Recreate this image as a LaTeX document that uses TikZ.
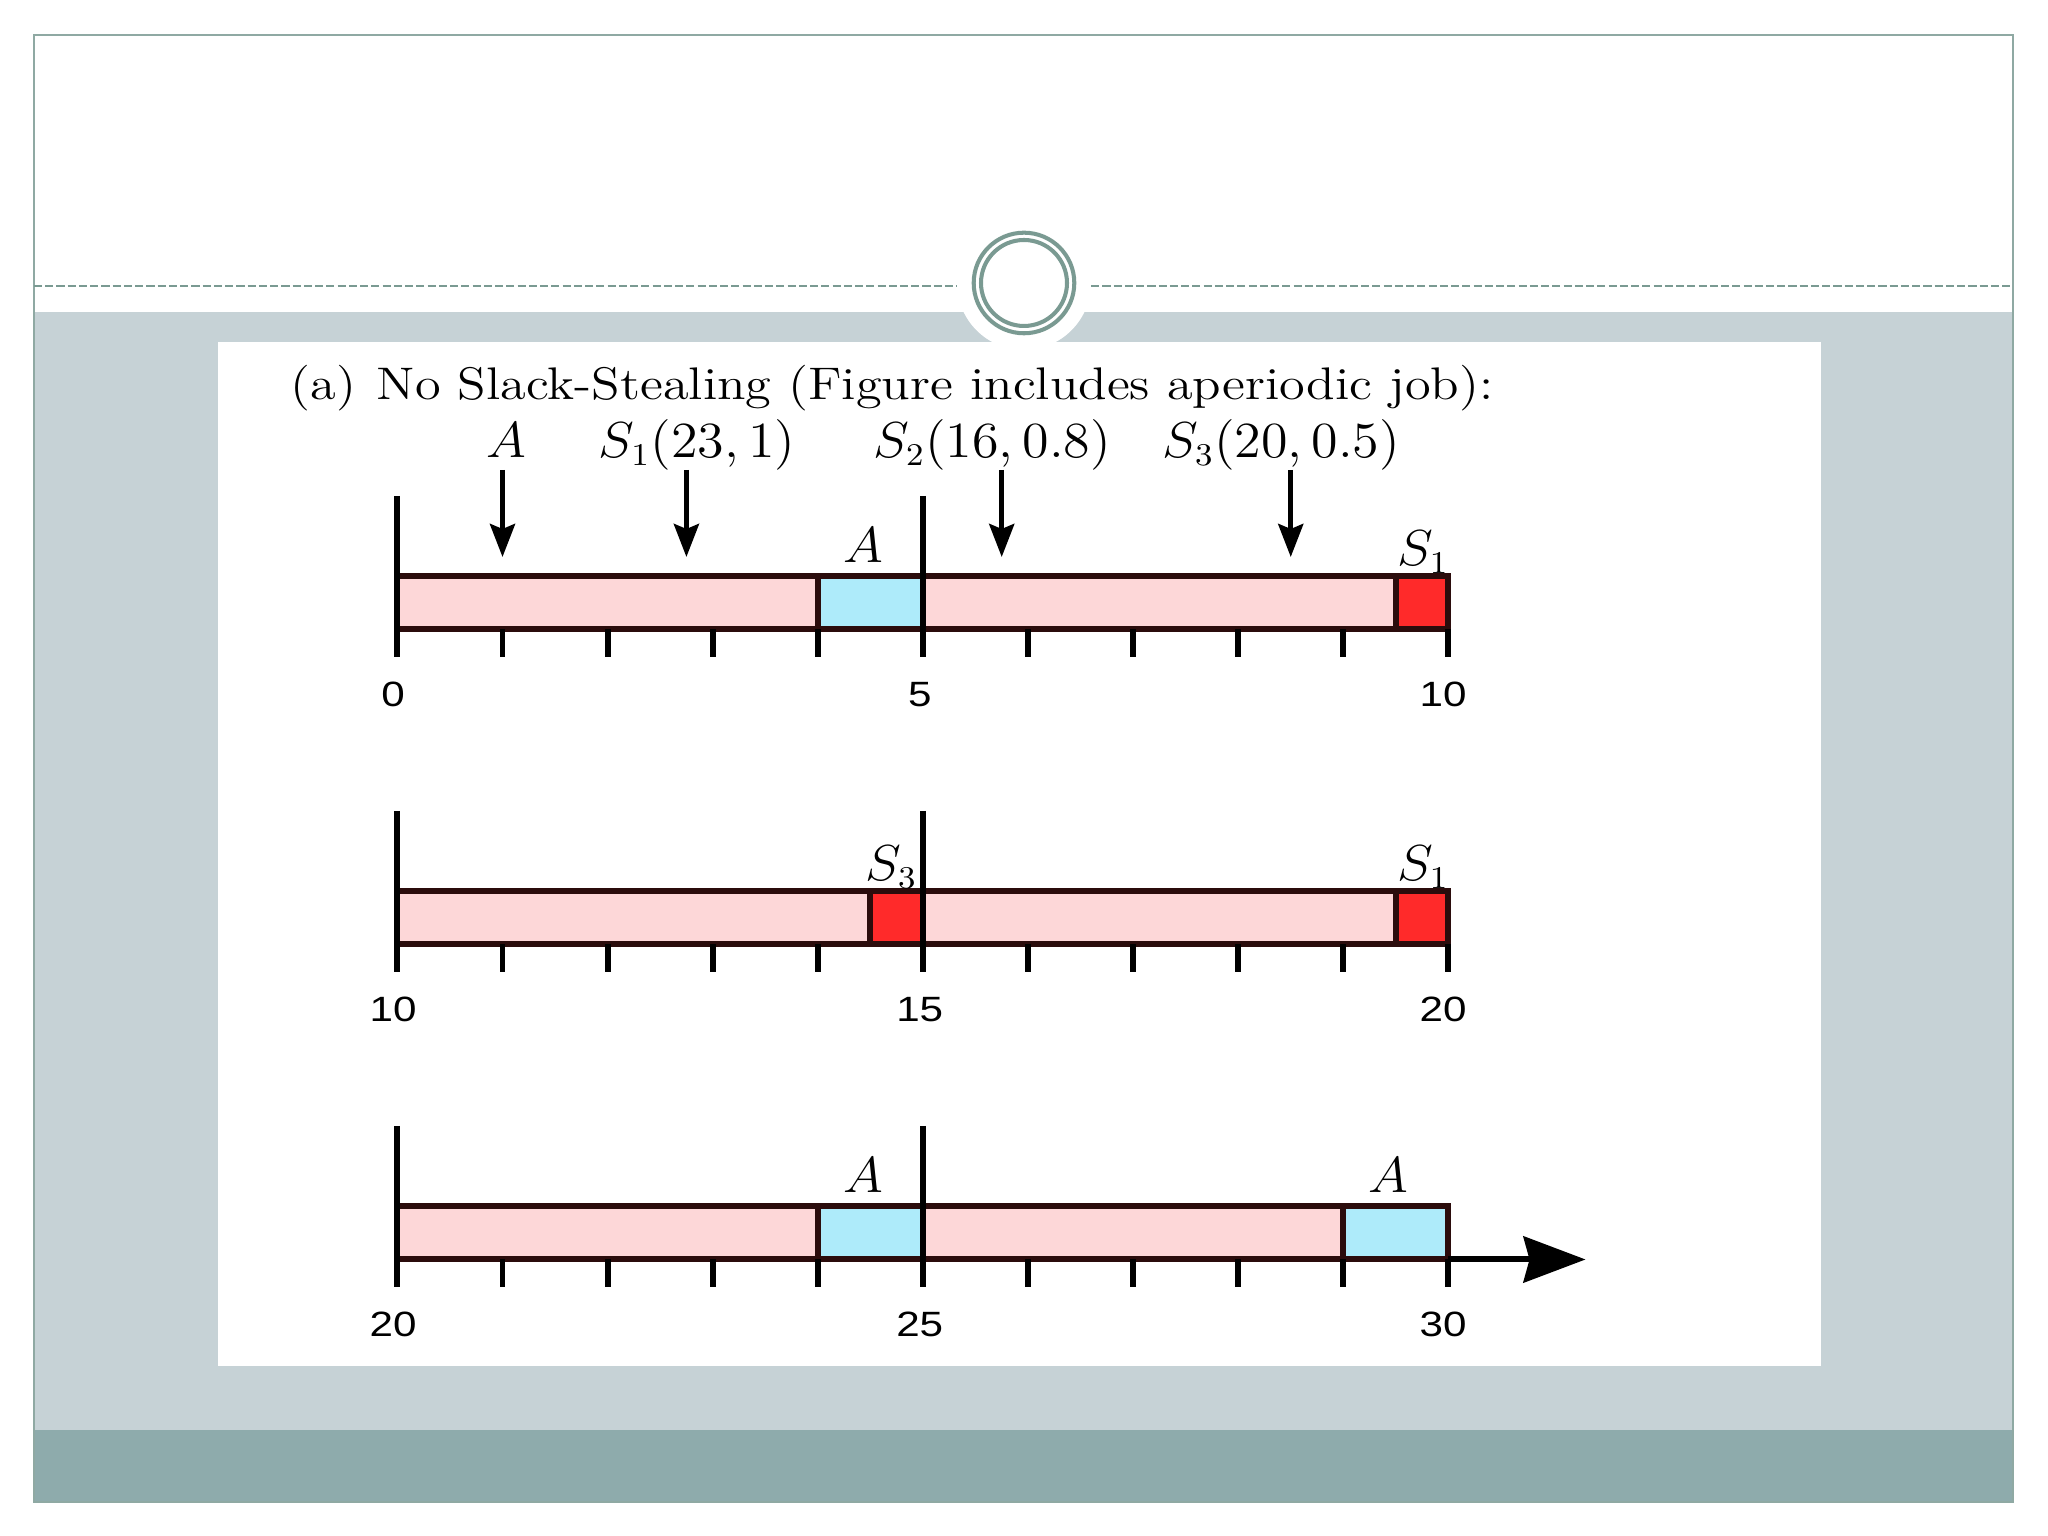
\documentclass[tikz,border=0pt]{standalone}
\usepackage{fontspec}
\newfontfamily\axisfont{Liberation Sans}
\usetikzlibrary{arrows.meta,positioning,calc}

\begin{document}
\begin{tikzpicture}[
        seg/.style={draw=barline, line width=1.7pt},
        tickline/.style={black, line width=1.7pt},
        joblabel/.style={font=\fontsize{13.5}{15}\selectfont, anchor=base, inner sep=0pt, xscale=1.07},
        ticklabel/.style={font=\axisfont\fontsize{10}{12}\selectfont, inner sep=0pt, xscale=1.2},
        release/.style={line width=1.4pt, -{Stealth[length=3.3mm,width=2.5mm,inset=0.5mm]}}
    ]
        \definecolor{slideline}{RGB}{143,169,163}
        \definecolor{bandgray}{RGB}{198,210,214}
        \definecolor{banddark}{RGB}{142,171,172}
        \definecolor{ringgreen}{RGB}{122,154,146}
        \definecolor{idlepink}{RGB}{253,215,216}
        \definecolor{aperblue}{RGB}{174,235,250}
        \definecolor{sporred}{RGB}{255,42,42}
        \definecolor{barline}{RGB}{43,12,12}

        \useasboundingbox (0,0) rectangle (20.48,15.36);

        % Slide background first
        \fill[white] (0,0) rectangle (20.48,15.36);
        \fill[bandgray] (0.34,1.06) rectangle (20.13,12.24);
        \fill[banddark] (0.34,0.34) rectangle (20.13,1.06);
        \draw[slideline, line width=0.6pt] (0.34,0.34) rectangle (20.13,15.01);
        \draw[ringgreen, line width=0.6pt, dash pattern=on 2.3pt off 0.9pt] (0.34,12.50) -- (20.13,12.50);

        % Ring on the separator line
        \fill[white] (10.24,12.53) circle (0.67);
        \draw[ringgreen, line width=1.15pt] (10.24,12.53) circle (0.503);
        \draw[ringgreen, line width=1.15pt] (10.24,12.53) circle (0.43);

        % White card for the figure
        \fill[white] (2.18,1.70) rectangle (18.21,11.94);

        \node[joblabel, anchor=base west, font=\fontsize{13}{15}\selectfont, xscale=1.072] (title) at (2.90,11.36) {(a)\hskip 5pt No Slack-Stealing (Figure includes aperiodic job):};

        % Time axis: 1 unit = one time step
        \begin{scope}[shift={(3.974,0)}, x=1.051cm]

            % Row 1: 0..10
            \fill[idlepink] (0,9.065) rectangle (10,9.60);
            \fill[aperblue] (4,9.065) rectangle (5,9.60);
            \fill[sporred] (9.5,9.065) rectangle (10,9.60);
            \draw[seg] (0,9.065) rectangle (10,9.60);
            \draw[seg] (4,9.065) -- (4,9.60);
            \draw[seg] (9.5,9.065) -- (9.5,9.60);

            % Row 2: 10..20
            \fill[idlepink] (0,5.915) rectangle (10,6.45);
            \fill[sporred] (4.5,5.915) rectangle (5,6.45);
            \fill[sporred] (9.5,5.915) rectangle (10,6.45);
            \draw[seg] (0,5.915) rectangle (10,6.45);
            \draw[seg] (4.5,5.915) -- (4.5,6.45);
            \draw[seg] (9.5,5.915) -- (9.5,6.45);

            % Row 3: 20..30
            \fill[idlepink] (0,2.765) rectangle (10,3.30);
            \fill[aperblue] (4,2.765) rectangle (5,3.30);
            \fill[aperblue] (9,2.765) rectangle (10,3.30);
            \draw[seg] (0,2.765) rectangle (10,3.30);
            \draw[seg] (4,2.765) -- (4,3.30);
            \draw[seg] (9,2.765) -- (9,3.30);

            % Ticks, long marks and numbers for each row
            \foreach \row/\base in {0/9.065,1/5.915,2/2.765} {
                \foreach \t in {0,...,10}
                    \draw[tickline] (\t,\base) -- (\t,\base-0.275);
                \draw[tickline] (0,\base+1.335) -- (0,\base-0.275);
                \draw[tickline] (5,\base+1.335) -- (5,\base-0.275);
                \pgfmathtruncatemacro{\lo}{10*\row}
                \pgfmathtruncatemacro{\mid}{10*\row+5}
                \pgfmathtruncatemacro{\hi}{10*\row+10}
                \node[ticklabel] (num-\lo) at (-0.04,\base-0.65) {\lo};
                \node[ticklabel] (num-\mid) at (4.97,\base-0.65) {\mid};
                \node[ticklabel] (num-\hi) at (9.95,\base-0.65) {\hi};
            }

            % Axis arrow after the last row
            \coordinate (axis-end) at (11.305,2.765);
            \draw[black, line width=1.7pt, -{Stealth[length=6.2mm,width=4.6mm,inset=0.6mm]}] (10,2.765) -- (axis-end);

            % Release labels and arrows
            \node[joblabel] (lbl-A) at (1.04,10.78) {$A$};
            \node[joblabel] (lbl-S1) at (2.85,10.78) {$S_1(23,1)$};
            \node[joblabel] (lbl-S2) at (5.66,10.78) {$S_2(16,0.8)$};
            \node[joblabel] (lbl-S3) at (8.41,10.78) {$S_3(20,0.5)$};
            \foreach \job/\t in {A/1.0,S1/2.75,S2/5.75,S3/8.5} {
                \coordinate (rel-\job-top) at (\t,10.66);
                \coordinate (rel-\job) at (\t,9.79);
                \draw[release] (rel-\job-top) -- (rel-\job);
            }

            % Labels above executed jobs
            \node[joblabel] (run-A1) at (4.43,9.73) {$A$};
            \node[joblabel] (run-S1a) at (9.76,9.70) {$S_1$};
            \node[joblabel] (run-S3) at (4.70,6.55) {$S_3$};
            \node[joblabel] (run-S1b) at (9.76,6.55) {$S_1$};
            \node[joblabel] (run-A2) at (4.43,3.43) {$A$};
            \node[joblabel] (run-A3) at (9.43,3.43) {$A$};
        \end{scope}
    \end{tikzpicture}
\end{document}
